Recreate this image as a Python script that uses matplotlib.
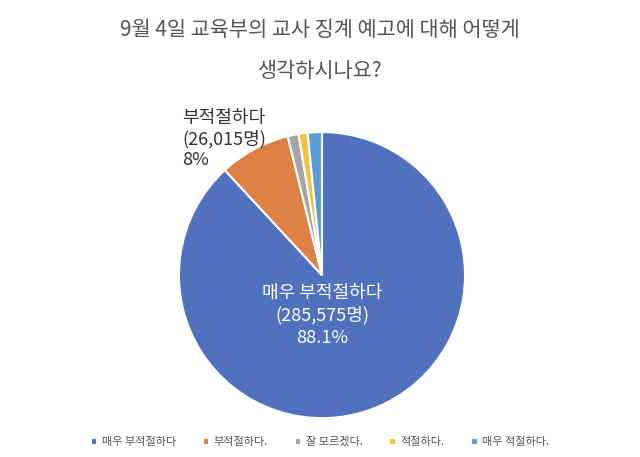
import matplotlib.pyplot as plt

plt.rcParams['font.family'] = ['Noto Sans CJK KR', 'DejaVu Sans']

labels = ['매우 부적절하다', '부적절하다.', '잘 모르겠다.', '적절하다.', '매우 적절하다.']
values = [285575, 26015, 4000, 3300, 5200]
colors = ['#4f71be', '#dd8244', '#a5a5a5', '#f4c242', '#5b9bd5']

fig = plt.figure(figsize=(6.4, 4.57), dpi=100)
ax = fig.add_axes([0.2796, 0.085, 0.447, 0.626])
wedges, _ = ax.pie(values, colors=colors, startangle=90, counterclock=False,
                   wedgeprops=dict(edgecolor='white', linewidth=1.5))
ax.set_xlim(-1, 1)
ax.set_ylim(-1, 1)
ax.set_aspect('equal')

ax.text(0.0, -0.28, '매우 부적절하다\n(285,575명)\n88.1%', ha='center', va='center',
        color='white', fontsize=13, linespacing=1.3)
fig.text(0.285, 0.695, '부적절하다\n(26,015명)\n8%', ha='left', va='center',
         fontsize=13, linespacing=1.2, color='#333333')

fig.text(0.5, 0.935, '9월 4일 교육부의 교사 징계 예고에 대해 어떻게', ha='center', va='center',
         fontsize=15, color='#555555', fontweight='medium')
fig.text(0.5, 0.845, '생각하시나요?', ha='center', va='center', fontsize=15,
         color='#555555', fontweight='medium')

fig.legend(wedges, labels, loc='lower center', bbox_to_anchor=(0.5, 0.0), ncol=5,
           frameon=False, fontsize=8, handlelength=0.6, handleheight=0.6,
           columnspacing=2.4, handletextpad=0.4, labelcolor='#555555')

fig.savefig('out.png', dpi=100)
